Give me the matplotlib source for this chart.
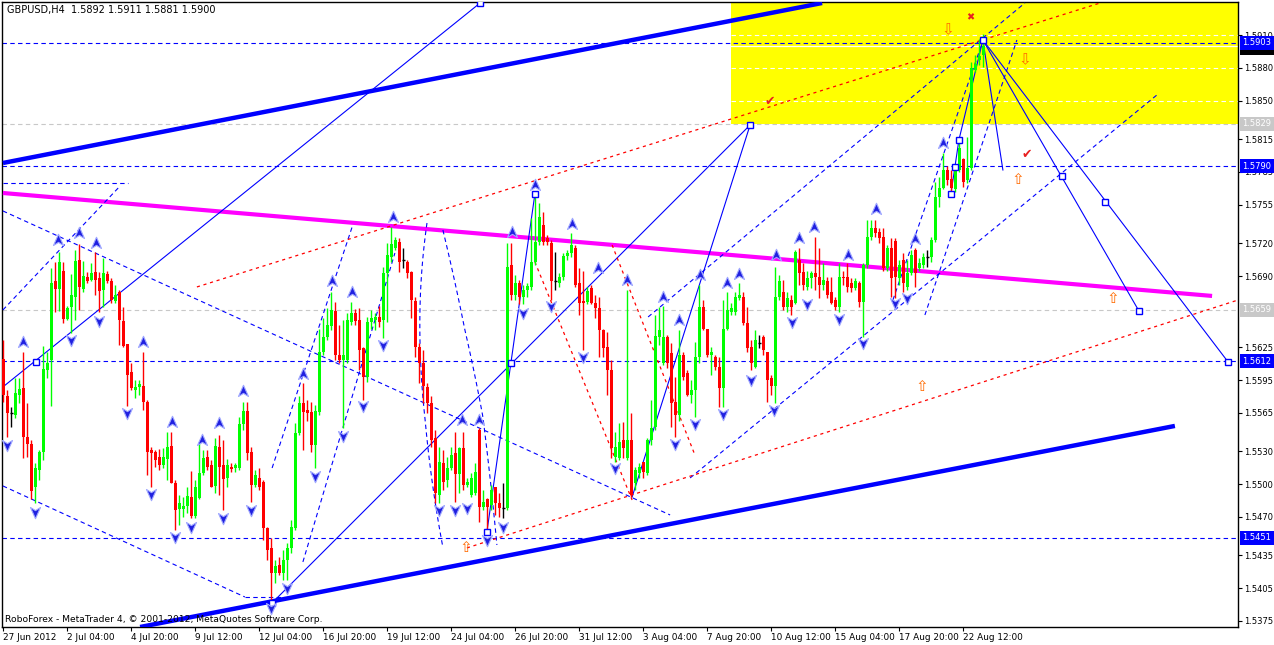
import numpy as np
import matplotlib
matplotlib.use("Agg")
import matplotlib.pyplot as plt
from matplotlib.path import Path
from matplotlib.patches import Rectangle
from matplotlib.transforms import blended_transform_factory

# ---------------- data (prices in 1e-4 units, 1.xxxx -> 1xxxx) ----------------
opens = [15614,15580,15565,15563,15581,15588,15543,15537,15497,15513,15529,15604,15613,15685,15678,15695,15651,15662,15671,15705,
         15678,15689,15686,15694,15688,15677,15692,15685,15667,15675,15649,15628,15602,15586,15589,15590,15575,15531,15529,15525,
         15517,15523,15535,15501,15477,15477,15480,15488,15471,15487,15510,15525,15517,15498,15534,15517,15506,15516,15515,15515,
         15555,15567,15529,15499,15506,15502,15460,15442,15419,15426,15419,15431,15442,15460,15547,15574,15568,15566,15536,15566,
         15621,15634,15644,15658,15618,15613,15613,15648,15656,15650,15624,15598,15648,15650,15653,15650,15693,15707,15716,15721,
         15705,15703,15694,15667,15625,15611,15589,15574,15542,15490,15519,15504,15515,15528,15509,15533,15499,15490,15492,15549,
         15479,15486,15481,15497,15483,15478,15478,15700,15673,15684,15671,15677,15680,15703,15721,15737,15725,15720,15685,15684,
         15689,15708,15711,15716,15684,15667,15666,15679,15665,15661,15641,15625,15604,15525,15524,15540,15524,15540,15501,15510,
         15520,15510,15540,15552,15634,15611,15634,15620,15575,15563,15618,15601,15581,15586,15616,15662,15642,15618,15616,15607,
         15588,15642,15657,15657,15670,15671,15647,15625,15607,15629,15634,15621,15597,15590,15671,15675,15662,15668,15665,15705,
         15694,15680,15688,15693,15689,15682,15685,15675,15668,15662,15689,15689,15684,15679,15684,15666,15700,15726,15734,15730,
         15726,15697,15716,15722,15688,15705,15680,15693,15714,15697,15700,15707,15707,15723,15762,15770,15787,15779,15769,15787,
         15797,15778,15789,15878,15887,15892]
highs = [15632,15586,15570,15597,15597,15621,15574,15540,15519,15531,15626,15621,15697,15703,15712,15703,15663,15692,15714,15719,
         15704,15694,15702,15712,15694,15706,15695,15688,15682,15677,15662,15628,15611,15595,15595,15621,15577,15534,15531,15532,
         15533,15548,15548,15504,15490,15488,15497,15512,15504,15538,15531,15531,15522,15542,15545,15540,15523,15519,15519,15561,
         15575,15575,15534,15513,15515,15504,15461,15451,15431,15433,15440,15446,15467,15556,15580,15592,15577,15575,15572,15642,
         15652,15661,15675,15666,15645,15650,15656,15666,15660,15661,15625,15653,15659,15656,15663,15698,15720,15735,15726,15725,
         15716,15705,15695,15671,15629,15622,15592,15580,15549,15534,15531,15525,15534,15548,15534,15548,15506,15510,15519,15551,
         15495,15487,15499,15497,15492,15501,15720,15720,15691,15686,15682,15684,15743,15764,15757,15748,15727,15723,15712,15693,
         15711,15714,15729,15718,15697,15695,15680,15682,15673,15671,15642,15639,15613,15548,15556,15557,15677,15565,15516,15519,
         15520,15542,15577,15654,15662,15663,15636,15629,15598,15641,15621,15604,15595,15630,15682,15668,15642,15625,15618,15616,
         15668,15675,15665,15675,15684,15675,15662,15632,15641,15636,15636,15621,15600,15698,15691,15686,15675,15673,15714,15716,
         15702,15695,15695,15726,15716,15702,15689,15689,15671,15702,15695,15702,15688,15688,15685,15702,15741,15741,15741,15734,
         15734,15718,15725,15725,15705,15711,15705,15714,15716,15706,15711,15714,15726,15776,15780,15802,15790,15787,15790,15814,
         15798,15817,15885,15892,15906,15911]
lows = [15575,15543,15552,15560,15574,15524,15525,15486,15483,15504,15522,15597,15571,15657,15658,15647,15650,15638,15650,15659,
        15675,15684,15685,15673,15657,15662,15684,15665,15665,15627,15625,15571,15586,15579,15581,15568,15508,15497,15516,15513,
        15515,15504,15501,15458,15463,15470,15474,15469,15469,15486,15508,15513,15497,15492,15490,15476,15497,15511,15511,15513,
        15549,15522,15484,15497,15495,15449,15431,15391,15410,15417,15412,15412,15437,15458,15545,15531,15558,15529,15515,15563,
        15618,15632,15641,15613,15611,15551,15611,15645,15645,15604,15577,15593,15642,15641,15643,15633,15648,15703,15714,15694,
        15697,15688,15652,15616,15592,15574,15565,15534,15483,15483,15495,15497,15513,15484,15492,15495,15497,15488,15490,15465,
        15476,15456,15476,15472,15470,15469,15476,15668,15668,15664,15664,15671,15677,15700,15718,15718,15718,15668,15677,15680,
        15686,15705,15707,15680,15654,15622,15664,15664,15652,15616,15616,15581,15524,15520,15522,15524,15522,15488,15495,15506,
        15506,15508,15536,15549,15627,15609,15606,15552,15543,15558,15595,15580,15574,15561,15611,15641,15616,15600,15604,15570,
        15570,15641,15654,15654,15668,15645,15621,15604,15606,15624,15618,15575,15581,15574,15668,15659,15657,15654,15664,15682,
        15677,15677,15679,15677,15670,15677,15670,15664,15659,15657,15682,15675,15675,15677,15662,15634,15697,15723,15726,15720,
        15695,15695,15671,15670,15682,15675,15677,15691,15680,15695,15697,15698,15703,15721,15753,15769,15773,15766,15767,15785,
        15771,15775,15787,15876,15883,15881]
closes = [15581,15565,15565,15583,15587,15543,15537,15494,15515,15529,15605,15611,15684,15678,15703,15651,15661,15673,15704,15680,
          15690,15685,15693,15686,15676,15693,15685,15668,15673,15650,15626,15600,15588,15589,15591,15575,15529,15528,15522,15517,
          15525,15534,15501,15476,15483,15480,15489,15471,15497,15510,15524,15516,15497,15535,15516,15505,15517,15514,15517,15555,
          15567,15528,15499,15508,15497,15460,15440,15419,15425,15419,15431,15442,15461,15547,15574,15566,15565,15536,15567,15621,
          15634,15645,15659,15618,15613,15618,15650,15656,15649,15622,15598,15648,15652,15653,15648,15693,15709,15719,15723,15703,
          15705,15693,15668,15625,15611,15590,15574,15540,15492,15520,15502,15515,15527,15509,15533,15499,15502,15506,15511,15479,
          15484,15479,15495,15483,15478,15478,15698,15673,15684,15671,15677,15681,15703,15721,15744,15721,15721,15685,15685,15689,
          15708,15711,15718,15682,15665,15665,15676,15665,15661,15641,15624,15604,15533,15534,15538,15533,15540,15490,15513,15516,
          15511,15540,15551,15635,15641,15634,15611,15574,15563,15618,15598,15581,15586,15616,15662,15642,15618,15621,15607,15588,
          15642,15659,15661,15671,15673,15647,15624,15611,15632,15629,15622,15595,15590,15671,15685,15662,15670,15662,15712,15693,
          15682,15688,15693,15689,15682,15686,15673,15665,15662,15689,15688,15680,15679,15685,15666,15700,15726,15734,15729,15725,
          15697,15716,15688,15689,15700,15684,15693,15709,15693,15702,15707,15707,15723,15762,15770,15787,15778,15770,15787,15807,
          15776,15789,15880,15884,15891,15900]

date_labels = ["27 Jun 2012", "2 Jul 04:00", "4 Jul 20:00", "9 Jul 12:00", "12 Jul 04:00", "16 Jul 20:00",
               "19 Jul 12:00", "24 Jul 04:00", "26 Jul 20:00", "31 Jul 12:00", "3 Aug 04:00", "7 Aug 20:00",
               "10 Aug 12:00", "15 Aug 04:00", "17 Aug 20:00", "22 Aug 12:00"]
price_ticks = [1.5910, 1.5880, 1.5850, 1.5815, 1.5785, 1.5755, 1.5720, 1.5690, 1.5625, 1.5595,
               1.5565, 1.5530, 1.5500, 1.5470, 1.5435, 1.5405, 1.5375]

blue_levels = [1.5903, 1.5790, 1.5612, 1.5451]
gray_levels = [1.5829, 1.5659]
zone_levels = [1.5910, 1.5880, 1.5850]
zone_bottom = 1.5829
bid_price = 1.5900
zone_left_bar = 181.9

# analysis objects (bar index, price)
thick_blue = [((-0.1, 1.57932), (204.7, 1.59393)), ((34.2, 1.53695), (292.9, 1.55531))]
magenta_line = ((-0.1, 1.57658), (302.2, 1.56718))
solid_lines = [((-0.1, 1.55887), (119.2, 1.59393)),
               ((67.2, 1.53915), (186.7, 1.58279)),
               ((120.9, 1.54563), (132.9, 1.57649)),
               ((157.2, 1.54882), (186.7, 1.58279)),
               ((244.9, 1.59055), (249.9, 1.57868)),
               ((244.9, 1.59055), (283.9, 1.56581)),
               ((244.9, 1.59055), (306.2, 1.56115)),
               ((236.9, 1.57649), (238.9, 1.58142)),
               ((238.9, 1.58142), (244.9, 1.59055))]
dashed_lines = [((-0.1, 1.57494), (166.7, 1.54718)),
                ((-0.1, 1.54983), (60.4, 1.53969)),
                ((60.4, 1.53969), (70.4, 1.53969)),
                ((-0.1, 1.56590), (29.2, 1.57722)),
                ((-0.1, 1.57749), (31.2, 1.57749)),
                ((74.9, 1.54289), (97.9, 1.57110)),
                ((67.2, 1.55147), (87.2, 1.57347)),
                ((161.2, 1.56526), (255.4, 1.59393)),
                ((171.7, 1.55056), (288.4, 1.58553)),
                ((222.4, 1.56681), (245.4, 1.59100)),
                ((230.4, 1.56544), (253.4, 1.59055))]
dashed_curves = [[(105.9, 1.57384), (104.2, 1.56526), (105.4, 1.55585), (109.9, 1.54426)],
                 [(109.9, 1.57320), (115.4, 1.56407), (119.9, 1.55613), (123.4, 1.54444)]]
red_lines = [((48.4, 1.56800), (274.2, 1.59393)),
             ((115.9, 1.54417), (308.7, 1.56681)),
             ((132.9, 1.57028), (157.2, 1.54855)),
             ((152.2, 1.57183), (172.9, 1.55266))]
squares = [(8.2, 1.56115), (119.2, 1.59393), (67.2, 1.53915), (120.9, 1.54563), (126.9, 1.56106),
           (132.9, 1.57649), (186.7, 1.58279), (236.9, 1.57649), (237.9, 1.57895), (238.9, 1.58142),
           (244.9, 1.59055), (264.7, 1.57813), (283.9, 1.56581), (275.4, 1.57576), (306.2, 1.56115)]
frac_up = [(4.9, 1.56298), (13.7, 1.57229), (18.9, 1.57293), (23.2, 1.57201), (34.9, 1.56298), (42.2, 1.55567),
           (49.7, 1.55403), (53.9, 1.55558), (59.9, 1.55850), (74.9, 1.56005), (82.2, 1.56854), (87.2, 1.56754),
           (97.4, 1.57439), (114.7, 1.55585), (118.9, 1.55585), (127.2, 1.57302), (132.9, 1.57731), (142.2, 1.57375),
           (148.7, 1.56973), (155.9, 1.56864), (164.9, 1.56708), (168.9, 1.56498), (174.2, 1.56909), (180.9, 1.56836),
           (183.9, 1.56918), (193.2, 1.57092), (198.9, 1.57247), (202.7, 1.57347), (211.2, 1.57092), (218.2, 1.57512),
           (227.9, 1.57238), (234.9, 1.58114)]
frac_dn = [(0.9, 1.55357), (7.9, 1.54745), (16.9, 1.56316), (23.9, 1.56489), (30.9, 1.55650), (36.9, 1.54910),
           (42.9, 1.54517), (46.9, 1.54608), (54.9, 1.54691), (61.9, 1.54764), (66.9, 1.53869), (70.9, 1.54052),
           (77.9, 1.55074), (84.9, 1.55439), (89.9, 1.55713), (94.9, 1.56270), (108.9, 1.54764), (112.9, 1.54764),
           (115.9, 1.54782), (120.9, 1.54490), (124.9, 1.54608), (129.9, 1.56562), (136.9, 1.56626), (144.9, 1.56160),
           (152.9, 1.55147), (167.9, 1.55366), (172.9, 1.55549), (179.9, 1.55640), (186.9, 1.55951), (192.7, 1.55677),
           (197.2, 1.56480), (200.9, 1.56644), (208.9, 1.56508), (214.9, 1.56288), (222.9, 1.56654), (225.9, 1.56699)]
hollow_down = [(236.2, 1.59146), (255.4, 1.58872)]
hollow_up = [(253.7, 1.57777), (277.4, 1.56699), (229.7, 1.55887), (115.7, 1.54417)]
checks = [(191.7, 1.58489), (255.9, 1.58005)]
crosses = [(241.7, 1.59265)]

# ---------------- figure ----------------
W, H = 1274, 645
fig = plt.figure(figsize=(W / 100, H / 100), dpi=100)
fig.patch.set_facecolor("white")
ax = fig.add_axes([2 / W, 18 / H, 1236 / W, 625 / H])
ax.set_facecolor("white")
XMIN, XMAX = -0.325, 308.675
YMIN, YMAX = 1.53695, 1.59402
ax.set_xlim(XMIN, XMAX)
ax.set_ylim(YMIN, YMAX)

o = np.array(opens) / 1e4
h = np.array(highs) / 1e4
l = np.array(lows) / 1e4
c = np.array(closes) / 1e4
idx = np.arange(len(o))

# yellow target zone
ax.add_patch(Rectangle((zone_left_bar, zone_bottom), XMAX + 5 - zone_left_bar, YMAX + 0.01 - zone_bottom,
                       facecolor="#FFFF00", edgecolor="none", zorder=0.5))
for lv in zone_levels:
    ax.plot([zone_left_bar, XMAX + 5], [lv, lv], color="white", lw=0.8, dashes=(4, 3), zorder=0.8)
ax.plot([zone_left_bar, XMAX + 5], [bid_price, bid_price], color="white", lw=0.9, zorder=0.8)

# horizontal levels
for lv in blue_levels:
    ax.axhline(lv, color="#0000FF", lw=0.8, dashes=(4, 3), zorder=1)
for lv in gray_levels:
    ax.axhline(lv, color="#C8C8C8", lw=0.8, dashes=(4, 3), zorder=1)

# long lines
for (x0, y0), (x1, y1) in thick_blue:
    ax.plot([x0, x1], [y0, y1], color="#0000FF", lw=3.2, solid_capstyle="butt", zorder=3)
(mx0, my0), (mx1, my1) = magenta_line
ax.plot([mx0, mx1], [my0, my1], color="#FF00FF", lw=3.0, solid_capstyle="butt", zorder=3)
for (x0, y0), (x1, y1) in solid_lines:
    ax.plot([x0, x1], [y0, y1], color="#0000FF", lw=0.8, zorder=3)
for (x0, y0), (x1, y1) in dashed_lines:
    ax.plot([x0, x1], [y0, y1], color="#0000FF", lw=0.8, dashes=(4, 3), zorder=3)
for pts in dashed_curves:
    xs = [p[0] for p in pts]
    ys = [p[1] for p in pts]
    t = np.linspace(0, 1, len(xs))
    tt = np.linspace(0, 1, 60)
    cx = np.polyval(np.polyfit(t, xs, 2), tt)
    cy = np.interp(tt, t, ys)
    ax.plot(cx, cy, color="#0000FF", lw=0.8, dashes=(4, 3), zorder=3)
for (x0, y0), (x1, y1) in red_lines:
    ax.plot([x0, x1], [y0, y1], color="#FF0000", lw=0.9, dashes=(2.5, 3), zorder=3)

# candles
up = c > o
dn = c < o
dj = c == o
ax.vlines(idx[up], l[up], h[up], color="#00FF00", lw=1.0, zorder=4)
ax.vlines(idx[dn], l[dn], h[dn], color="#FF0000", lw=1.0, zorder=4)
ax.vlines(idx[dj], l[dj], h[dj], color="black", lw=1.0, zorder=4)
ax.bar(idx[up], (c - o)[up], bottom=o[up], width=0.75, color="#00FF00", linewidth=0, zorder=4)
ax.bar(idx[dn], (o - c)[dn], bottom=c[dn], width=0.75, color="#FF0000", linewidth=0, zorder=4)
ax.hlines(o[dj], idx[dj] - 0.4, idx[dj] + 0.4, color="black", lw=1.0, zorder=4)

# squares
ax.plot([p[0] for p in squares], [p[1] for p in squares], ls="none", marker="s", ms=4.5,
        mfc="white", mec="#0000FF", mew=1.0, zorder=5)

# fractal arrows
up_path = Path([(0, 1), (0.8, -0.8), (0, -0.3), (-0.8, -0.8), (0, 1)],
               [Path.MOVETO, Path.LINETO, Path.LINETO, Path.LINETO, Path.CLOSEPOLY])
dn_path = Path([(0, -1), (0.8, 0.8), (0, 0.3), (-0.8, 0.8), (0, -1)],
               [Path.MOVETO, Path.LINETO, Path.LINETO, Path.LINETO, Path.CLOSEPOLY])
ax.plot([p[0] for p in frac_up], [p[1] for p in frac_up], ls="none", marker=up_path, ms=9,
        mfc="#2020E0", mec="#A0A8FF", mew=0.8, zorder=6)
ax.plot([p[0] for p in frac_dn], [p[1] for p in frac_dn], ls="none", marker=dn_path, ms=9,
        mfc="#2020E0", mec="#A0A8FF", mew=0.8, zorder=6)

# symbols
for x, y in hollow_down:
    ax.text(x, y, "\u21E9", color="#FF6A00", fontsize=11, ha="center", va="center", zorder=6)
for x, y in hollow_up:
    ax.text(x, y, "\u21E7", color="#FF6A00", fontsize=11, ha="center", va="center", zorder=6)
for x, y in checks:
    ax.text(x, y, "\u2714", color="#E82020", fontsize=9, ha="center", va="center", zorder=6)
for x, y in crosses:
    ax.text(x, y, "\u2716", color="#E82020", fontsize=7, ha="center", va="center", zorder=6)

# axes styling
FS = 6.0
for s in ax.spines.values():
    s.set_color("black")
    s.set_linewidth(1.0)
ax.yaxis.tick_right()
ax.set_yticks(price_ticks)
ax.set_yticklabels([f"{v:.4f}" for v in price_ticks])
ax.tick_params(axis="y", length=3, width=0.8, pad=1.5, labelsize=FS, colors="black")
tick_bars = np.arange(len(date_labels)) * 16
ax.set_xticks(tick_bars)
ax.set_xticklabels(date_labels)
ax.tick_params(axis="x", length=3, width=0.8, pad=1.5, labelsize=6.4)
for lab in ax.get_xticklabels():
    lab.set_horizontalalignment("left")

# right-hand price labels
tr = blended_transform_factory(ax.transAxes, ax.transData)
xl = (1242.5 - 2) / 1236
# current bid marker (black strip partly hidden under the 1.5903 label)
ax.add_patch(Rectangle((1.0015, bid_price - 0.00085), 0.03, 0.0011, transform=tr, facecolor="black",
                       edgecolor="none", clip_on=False, zorder=7))
for lv in blue_levels:
    ax.text(xl, lv, f"{lv:.4f}", transform=tr, color="white", fontsize=FS, va="center", ha="left",
            clip_on=False, zorder=8, bbox=dict(boxstyle="square,pad=0.3", fc="#0000FF", ec="none"))
for lv in gray_levels:
    ax.text(xl, lv, f"{lv:.4f}", transform=tr, color="white", fontsize=FS, va="center", ha="left",
            clip_on=False, zorder=8, bbox=dict(boxstyle="square,pad=0.3", fc="#C8C8C8", ec="none"))

# header and footer text
fig.text(7 / W, 1 - 10 / H, "GBPUSD,H4  1.5892 1.5911 1.5881 1.5900", fontsize=7.0, va="center", ha="left",
         color="black")
fig.text(5 / W, 1 - 619 / H, "RoboForex - MetaTrader 4, \u00A9 2001-2012, MetaQuotes Software Corp.",
         fontsize=6.6, va="center", ha="left", color="black", zorder=9)

fig.savefig("out.png", dpi=100, facecolor="white")
